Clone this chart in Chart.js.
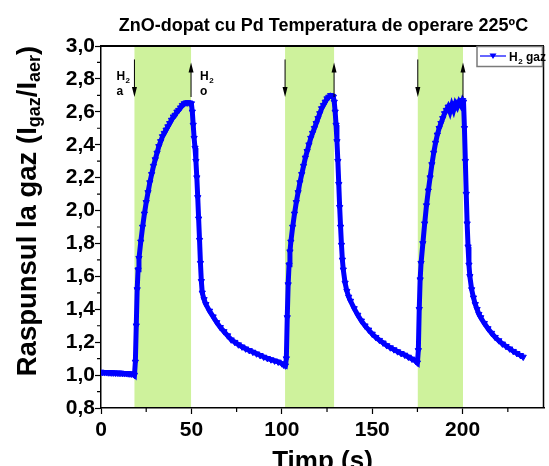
<!DOCTYPE html>
<html>
<head>
<meta charset="utf-8">
<script src="https://cdn.jsdelivr.net/npm/chart.js@4.4.1/dist/chart.umd.min.js"></script>
<style>
  html, body { margin: 0; padding: 0; background: #fff; }
  canvas { display: block; }
</style>
</head>
<body>
<canvas id="chart" width="549" height="466"></canvas>
<script>
const FONT = '"Liberation Sans", Arial, sans-serif'

// timp (s) / raspuns
const timp = [
  0, 1, 2, 3, 4, 5, 6, 7, 8, 9, 10, 11, 12, 13, 14, 15, 16, 17, 18,
  18.5, 19, 19.5, 20, 20.5, 21, 22, 23, 24, 25, 26, 27, 28, 29, 30, 31, 32, 33, 34, 35,
  36, 37, 38, 39, 40, 41, 42, 43, 44, 45, 46, 47, 48, 49, 50,
  50.5, 51, 51.5, 52, 52.5, 53, 53.5, 54, 54.5, 55, 55.5, 56, 57, 58, 60, 62, 64, 66,
  68, 70, 72, 74, 76, 78, 80, 82, 84, 86, 88, 90, 92, 94, 96, 98, 100, 101, 102,
  102.5, 103, 103.5, 104, 104.5, 105, 106, 107, 108, 109, 110, 111, 112, 113, 114, 115,
  116, 117, 118, 119, 120, 121, 122, 123, 124, 125, 126, 127, 128, 128.5,
  129, 129.5, 130, 130.5, 131, 131.5, 132, 132.5, 133, 133.5, 134, 135, 136, 137, 138,
  140, 142, 144, 146, 148, 150, 152, 154, 156, 158, 160, 162, 164, 166, 168, 170, 172, 174, 175,
  175.5, 176, 176.5, 177, 178, 179, 180, 181, 182, 183, 184, 185, 186, 187, 188, 189, 190,
  191, 192, 193, 194, 195, 196, 197, 198, 199, 200, 200.5,
  201, 201.5, 202, 202.5, 203, 203.5, 204, 205, 206, 207, 208, 209, 210, 212, 214, 216,
  218, 220, 222, 224, 226, 228, 230, 232, 233.5
]
const raspuns = [
  1.018, 1.017, 1.016, 1.016, 1.015, 1.015, 1.014, 1.014, 1.013, 1.013, 1.012, 1.012, 1.011, 1.010, 1.010, 1.009, 1.008, 1.007, 1.005,
  1.0, 1.08, 1.3, 1.52, 1.64, 1.71, 1.81, 1.9, 1.98, 2.05, 2.11, 2.17, 2.22, 2.27, 2.31, 2.35, 2.39, 2.42, 2.45, 2.47,
  2.49, 2.51, 2.53, 2.55, 2.57, 2.58, 2.6, 2.61, 2.625, 2.64, 2.65, 2.655, 2.655, 2.655, 2.65,
  2.6, 2.52, 2.44, 2.38, 2.3, 2.2, 2.08, 1.95, 1.82, 1.68, 1.57, 1.5, 1.46, 1.43, 1.39, 1.355, 1.32, 1.29,
  1.265, 1.24, 1.215, 1.2, 1.185, 1.172, 1.16, 1.15, 1.14, 1.13, 1.12, 1.11, 1.102, 1.094, 1.087, 1.08, 1.07, 1.062, 1.057,
  1.1, 1.35, 1.55, 1.67, 1.75, 1.81, 1.9, 1.98, 2.05, 2.11, 2.17, 2.22, 2.27, 2.32, 2.36, 2.4,
  2.44, 2.47, 2.5, 2.53, 2.56, 2.59, 2.62, 2.64, 2.66, 2.68, 2.69, 2.7, 2.695, 2.69,
  2.66, 2.6, 2.52, 2.42, 2.3, 2.16, 2.02, 1.9, 1.79, 1.7, 1.64, 1.56, 1.51, 1.475, 1.45,
  1.405, 1.365, 1.33, 1.3, 1.275, 1.25, 1.23, 1.212, 1.196, 1.18, 1.167, 1.155, 1.143, 1.132, 1.122, 1.11, 1.098, 1.085, 1.075,
  1.15, 1.4, 1.58, 1.68, 1.8, 1.92, 2.03, 2.12, 2.2, 2.28, 2.35, 2.41, 2.46, 2.5, 2.53, 2.56, 2.59,
  2.61, 2.63, 2.6, 2.64, 2.61, 2.65, 2.63, 2.66, 2.64, 2.67, 2.66,
  2.5, 2.3, 2.1, 1.92, 1.78, 1.67, 1.6, 1.52, 1.47, 1.43, 1.4, 1.37, 1.35, 1.315, 1.283, 1.255,
  1.23, 1.21, 1.19, 1.175, 1.16, 1.145, 1.132, 1.12, 1.11
]

// H2 pornit / oprit (s)
const h2On = [18.5, 101.8, 175.2]
const h2Off = [49.8, 128.9, 200.2]

const xTicks = [0, 50, 100, 150, 200]
const xMinor = [25, 75, 125, 175, 225]
const yTicks = [0.8, 1.0, 1.2, 1.4, 1.6, 1.8, 2.0, 2.2, 2.4, 2.6, 2.8, 3.0]
const yMinor = [0.9, 1.1, 1.3, 1.5, 1.7, 1.9, 2.1, 2.3, 2.5, 2.7, 2.9]

function arrow(ctx, x, y0, y1) {
  const dir = y1 > y0 ? 1 : -1
  ctx.beginPath()
  ctx.moveTo(x, y0)
  ctx.lineTo(x, y1 - dir * 6)
  ctx.stroke()
  ctx.beginPath()
  ctx.moveTo(x, y1)
  ctx.lineTo(x - 2.5, y1 - dir * 10)
  ctx.lineTo(x + 2.5, y1 - dir * 10)
  ctx.closePath()
  ctx.fill()
}

function h2Label(ctx, x, y, second) {
  ctx.font = 'bold 12px ' + FONT
  ctx.fillText('H', x, y)
  const w = ctx.measureText('H').width
  ctx.font = 'bold 8px ' + FONT
  ctx.fillText('2', x + w + 0.5, y + 3)
  ctx.font = 'bold 12px ' + FONT
  ctx.fillText(second, x, y + 15)
}

const decor = {
  id: 'decor',
  beforeDatasetsDraw(chart) {
    const { ctx, chartArea: a, scales: { x } } = chart
    ctx.save()
    ctx.fillStyle = '#cef29c'
    h2On.forEach((t, i) => {
      const x0 = x.getPixelForValue(t)
      const x1 = x.getPixelForValue(h2Off[i])
      ctx.fillRect(x0, a.top, x1 - x0, a.bottom - a.top - 1)
    })
    ctx.restore()
  },
  afterDraw(chart) {
    const { ctx, chartArea: a, scales: { x, y } } = chart
    ctx.save()

    // frame
    ctx.strokeStyle = '#000'
    ctx.lineWidth = 2
    ctx.beginPath()
    ctx.moveTo(a.left, a.top)
    ctx.lineTo(a.right, a.top)
    ctx.stroke()
    ctx.lineWidth = 1.5
    ctx.beginPath()
    ctx.moveTo(a.right - 0.5, a.top)
    ctx.lineTo(a.right - 0.5, a.bottom)
    ctx.stroke()

    // minor ticks
    ctx.lineWidth = 1.2
    ctx.beginPath()
    xMinor.forEach(v => {
      const px = x.getPixelForValue(v)
      ctx.moveTo(px, a.bottom)
      ctx.lineTo(px, a.bottom + 4)
    })
    yMinor.forEach(v => {
      const py = y.getPixelForValue(v)
      ctx.moveTo(a.left - 4, py)
      ctx.lineTo(a.left, py)
    })
    ctx.stroke()

    // arrows
    ctx.lineWidth = 1
    ctx.fillStyle = '#000'
    const yTop = y.getPixelForValue(2.9)
    const yBot = y.getPixelForValue(2.69)
    h2On.forEach(t => arrow(ctx, x.getPixelForValue(t), yTop - 3, yBot))
    h2Off.forEach(t => arrow(ctx, x.getPixelForValue(t), yBot, yTop))

    ctx.textAlign = 'left'
    ctx.textBaseline = 'alphabetic'
    h2Label(ctx, x.getPixelForValue(h2On[0]) - 18, 80, 'a')
    h2Label(ctx, x.getPixelForValue(h2Off[0]) + 9, 80, 'o')

    // title
    ctx.textAlign = 'center'
    ctx.font = 'bold 18px ' + FONT
    ctx.fillText('ZnO-dopat cu Pd Temperatura de operare 225ºC', (a.left + a.right) / 2 + 1, 31)

    // x title
    ctx.font = 'bold 26px ' + FONT
    ctx.fillText('Timp (s)', (a.left + a.right) / 2, 469)

    // y title with subscripts
    const parts = [
      ['Raspunsul la gaz (I', 27.5, 0],
      ['gaz', 18, 4],
      ['/I', 27.5, 0],
      ['aer', 18, 4],
      [')', 27.5, 0]
    ]
    let total = 0
    parts.forEach(p => {
      ctx.font = 'bold ' + p[1] + 'px ' + FONT
      p.push(ctx.measureText(p[0]).width)
      total += p[3]
    })
    ctx.translate(36, 211)
    ctx.rotate(-Math.PI / 2)
    ctx.textAlign = 'left'
    let cx = -total / 2
    parts.forEach(p => {
      ctx.font = 'bold ' + p[1] + 'px ' + FONT
      ctx.fillText(p[0], cx, p[2])
      cx += p[3]
    })
    ctx.setTransform(1, 0, 0, 1, 0, 0)

    // legend
    const lx = 477, ly = a.top
    ctx.fillStyle = '#fff'
    ctx.fillRect(lx, ly, a.right - lx - 1, 20)
    ctx.strokeStyle = '#7a7a7a'
    ctx.lineWidth = 1.5
    ctx.strokeRect(lx, ly + 0.5, a.right - lx - 1.5, 20)
    ctx.strokeStyle = '#0000ff'
    ctx.lineWidth = 1.2
    ctx.beginPath()
    ctx.moveTo(lx + 3, ly + 10)
    ctx.lineTo(lx + 29, ly + 10)
    ctx.stroke()
    ctx.fillStyle = '#0000ff'
    ctx.beginPath()
    ctx.moveTo(lx + 16, ly + 13)
    ctx.lineTo(lx + 12.5, ly + 7.5)
    ctx.lineTo(lx + 19.5, ly + 7.5)
    ctx.closePath()
    ctx.fill()
    ctx.fillStyle = '#000'
    ctx.font = 'bold 12px ' + FONT
    ctx.fillText('H', lx + 32, ly + 15)
    let w = ctx.measureText('H').width
    ctx.font = 'bold 8px ' + FONT
    ctx.fillText('2', lx + 32 + w + 0.5, ly + 18)
    ctx.font = 'bold 12px ' + FONT
    ctx.fillText(' gaz', lx + 32 + w + 5, ly + 15)

    ctx.restore()
  }
}

new Chart(document.getElementById('chart'), {
  type: 'line',
  data: {
    datasets: [{
      label: 'H2 gaz',
      data: timp.map((t, i) => ({ x: t, y: raspuns[i] })),
      borderColor: '#0000ff',
      backgroundColor: '#0000ff',
      borderWidth: 5,
      pointStyle: 'triangle',
      rotation: 180,
      pointRadius: 3.6,
      pointBorderWidth: 1,
      tension: 0
    }]
  },
  options: {
    responsive: false,
    animation: false,
    layout: { padding: { top: 46, right: 1, left: 0, bottom: 0 } },
    plugins: { legend: { display: false }, title: { display: false }, tooltip: { enabled: false } },
    scales: {
      x: {
        type: 'linear',
        min: 0,
        max: 245,
        afterBuildTicks: s => { s.ticks = xTicks.map(v => ({ value: v })) },
        afterFit: s => { s.height = 58 },
        grid: { drawOnChartArea: false, tickLength: 6, tickColor: '#000', tickWidth: 1.2 },
        border: { color: '#000', width: 1.5 },
        ticks: { color: '#000', padding: 4, font: { family: FONT, size: 21, weight: 'bold' } }
      },
      y: {
        min: 0.8,
        max: 3.0,
        afterBuildTicks: s => { s.ticks = yTicks.map(v => ({ value: v })) },
        afterFit: s => { s.width = 101 },
        grid: { drawOnChartArea: false, tickLength: 6, tickColor: '#000', tickWidth: 1.2 },
        border: { color: '#000', width: 1.5 },
        ticks: {
          color: '#000', padding: 0,
          font: { family: FONT, size: 21, weight: 'bold' },
          callback: v => v.toFixed(1).replace('.', ',')
        }
      }
    }
  },
  plugins: [decor]
})
</script>
</body>
</html>
